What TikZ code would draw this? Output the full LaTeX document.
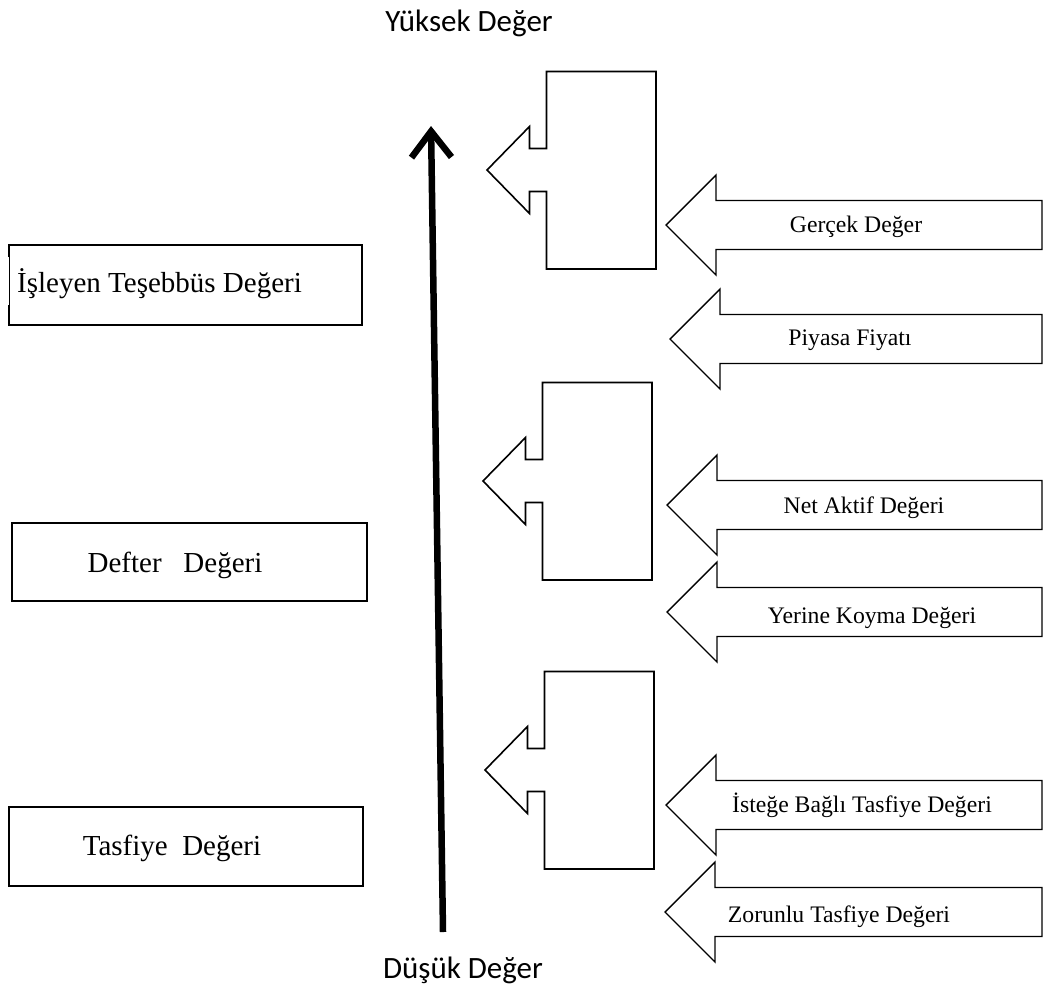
\documentclass[tikz,border=0pt]{standalone}
\usepackage{fontspec}
\setmainfont{Liberation Serif}
\newfontfamily\labelsans{Carlito}
\usetikzlibrary{arrows.meta}

\begin{document}
\begin{tikzpicture}[x=1pt,y=-1pt,
  boxline/.style={line width=2pt, line join=miter},
  valuebox/.style={draw, boxline, inner sep=0pt, outer sep=0pt},
  bracketline/.style={line width=1.6pt, line join=miter},
  arrowline/.style={line width=1.4pt, line join=miter},
  boxtext/.style={font=\fontsize{29}{34}\selectfont, inner sep=0pt, anchor=base},
  arrowtext/.style={font=\fontsize{23.7}{28}\selectfont, inner sep=0pt, anchor=base},
  endtext/.style={font=\labelsans\fontsize{31}{37}\selectfont, inner sep=0pt, anchor=base},
  % tall bracket box with a short arrow pointing left; origin = arrow tip
  pics/bracket/.style={code={
    \draw[bracketline] (0,0) -- (42.5,-43.5) -- (42.5,-21.5) -- (59.5,-21.5)
      -- (59.5,-98.5) -- (169,-98.5) -- (169,99) -- (59.5,99) -- (59.5,21.5)
      -- (42.5,21.5) -- (42.5,43.5) -- cycle;
  }},
  % wide block arrow pointing left; origin = tip, #1 = total length
  pics/valuearrow/.style={code={
    \draw[arrowline] (0,0) -- (50,-50) -- (50,-24.5) -- (#1,-24.5)
      -- (#1,24.5) -- (50,24.5) -- (50,50) -- cycle;
  }},
]
\useasboundingbox (0,0) rectangle (1048,988);

% value scale
\node[endtext] (high label) at (469,31) {Yüksek Değer};
\node[endtext] (low label) at (463,978) {Düşük Değer};
\coordinate (low) at (443,932);
\coordinate (high) at (431,126);
\draw[line width=6.5pt, -{Straight Barb[length=26pt,width=40pt]}] (low) -- (high);

% valuation groups on the left
\node[minimum width=353pt, minimum height=80pt, inner sep=0pt, outer sep=0pt] (isleyen) at (185.5,285) {};
\draw[boxline] ([yshift=-12pt]isleyen.north west) -- (isleyen.north west) -- (isleyen.north east)
  -- (isleyen.south east) -- (isleyen.south west) -- ([yshift=20pt]isleyen.south west);
\draw[line width=0.6pt] ([yshift=-12pt]isleyen.north west) -- ([yshift=20pt]isleyen.south west);
\node[boxtext, anchor=base west] (isleyen text) at (17,292) {İşleyen Teşebbüs Değeri};

\node[valuebox, minimum width=355pt, minimum height=78pt] (defter) at (189.5,562) {};
\node[boxtext] (defter text) at (175,572) {Defter\hspace{0.75em}Değeri};

\node[valuebox, minimum width=354pt, minimum height=79pt] (tasfiye) at (186,846.5) {};
\node[boxtext] (tasfiye text) at (172,855) {Tasfiye\hspace{0.5em}Değeri};

% brackets grouping the value arrows
\pic at (487,170) {bracket};
\pic at (483,481) {bracket};
\pic at (485,770) {bracket};

% individual value measures
\pic at (666,225) {valuearrow=376};
\node[arrowtext] (gercek) at (856,232) {Gerçek Değer};

\pic at (670,339) {valuearrow=372};
\node[arrowtext] (piyasa) at (850,345) {Piyasa Fiyatı};

\pic at (667,505) {valuearrow=375};
\node[arrowtext] (netaktif) at (864,513) {Net Aktif Değeri};

\pic at (667,612) {valuearrow=375};
\node[arrowtext] (yerine) at (872,623) {Yerine Koyma Değeri};

\pic at (666,805) {valuearrow=376};
\node[arrowtext] (istege) at (862,812) {İsteğe Bağlı Tasfiye Değeri};

\pic at (665,912) {valuearrow=377};
\node[arrowtext] (zorunlu) at (839,922) {Zorunlu Tasfiye Değeri};
\end{tikzpicture}
\end{document}
